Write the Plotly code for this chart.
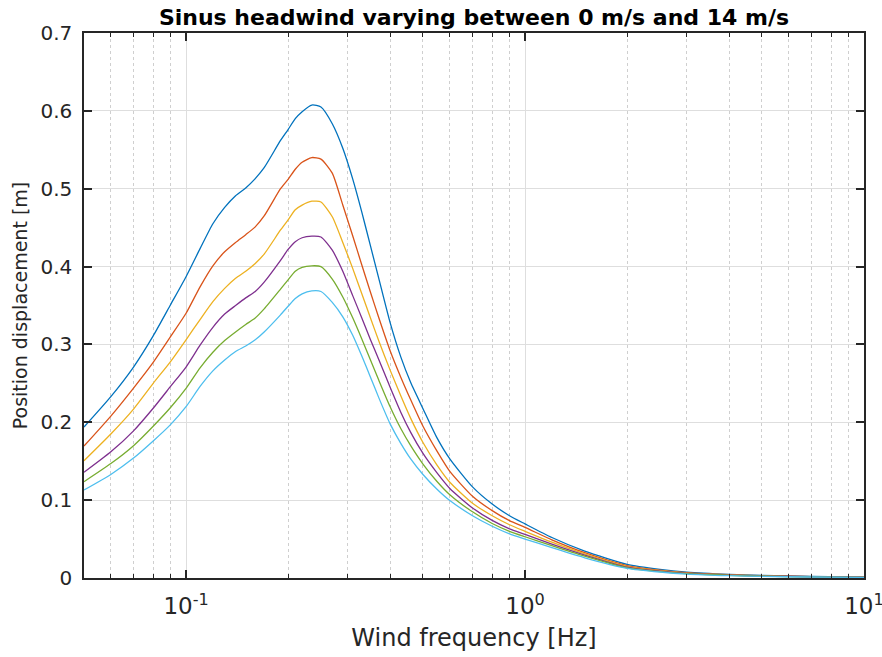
import plotly.graph_objects as go

# Wind frequency [Hz]
freq = [0.05, 0.06, 0.07, 0.08, 0.09, 0.1, 0.11, 0.12, 0.13, 0.14, 0.15, 0.16, 0.17,
        0.19, 0.2, 0.21, 0.22, 0.235, 0.25, 0.27, 0.29, 0.31, 0.33, 0.35, 0.37, 0.4,
        0.43, 0.46, 0.5, 0.55, 0.6, 0.7, 0.8, 0.9, 1.0, 1.2, 1.5, 2, 2.5, 3, 4, 5, 7, 10]

# Position displacement [m], one series per curve (top to bottom)
s1 = [0.194, 0.233, 0.271, 0.311, 0.351, 0.387, 0.423, 0.455, 0.476, 0.491, 0.501, 0.513, 0.527,
      0.562, 0.576, 0.590, 0.599, 0.6075, 0.605, 0.5835, 0.552, 0.513, 0.470, 0.4265, 0.3855, 0.328,
      0.284, 0.251, 0.2175, 0.180, 0.153, 0.117, 0.095, 0.080, 0.0695, 0.052, 0.0345, 0.0175, 0.011,
      0.0075, 0.0046, 0.0032, 0.002, 0.0012]
s2 = [0.1695, 0.208, 0.244, 0.277, 0.310, 0.340, 0.374, 0.401, 0.419, 0.431, 0.441, 0.451, 0.465,
      0.500, 0.512, 0.525, 0.534, 0.540, 0.538, 0.520, 0.479, 0.440, 0.402, 0.367, 0.335, 0.292,
      0.258, 0.229, 0.195, 0.163, 0.137, 0.105, 0.0865, 0.0736, 0.065, 0.049, 0.0325, 0.016, 0.010,
      0.0068, 0.0042, 0.0029, 0.0018, 0.0011]
s3 = [0.1507, 0.185, 0.217, 0.250, 0.278, 0.306, 0.332, 0.355, 0.372, 0.385, 0.394, 0.404, 0.416,
      0.447, 0.460, 0.473, 0.479, 0.484, 0.483, 0.464, 0.431, 0.398, 0.365, 0.334, 0.305, 0.267,
      0.234, 0.205, 0.174, 0.145, 0.123, 0.096, 0.080, 0.0684, 0.060, 0.046, 0.031, 0.015, 0.0093,
      0.0063, 0.0039, 0.0027, 0.0017, 0.0010]
s4 = [0.1357, 0.162, 0.189, 0.218, 0.246, 0.271, 0.299, 0.322, 0.339, 0.350, 0.3598, 0.368, 0.380,
      0.408, 0.422, 0.432, 0.437, 0.439, 0.438, 0.421, 0.394, 0.363, 0.334, 0.306, 0.281, 0.245,
      0.213, 0.187, 0.160, 0.135, 0.115, 0.090, 0.074, 0.0632, 0.056, 0.0435, 0.0295, 0.014, 0.0088,
      0.0059, 0.0036, 0.0025, 0.0016, 0.0010]
s5 = [0.1237, 0.147, 0.170, 0.195, 0.219, 0.2436, 0.270, 0.290, 0.305, 0.316, 0.3256, 0.334, 0.3456,
      0.371, 0.383, 0.394, 0.399, 0.401, 0.400, 0.384, 0.361, 0.3345, 0.307, 0.280, 0.2545, 0.220,
      0.192, 0.170, 0.1464, 0.124, 0.107, 0.085, 0.070, 0.060, 0.053, 0.0415, 0.028, 0.013, 0.0082,
      0.0055, 0.0034, 0.0023, 0.0015, 0.0009]
s6 = [0.113, 0.133, 0.154, 0.176, 0.197, 0.220, 0.246, 0.266, 0.280, 0.291, 0.298, 0.306, 0.316,
      0.338, 0.349, 0.359, 0.365, 0.3687, 0.368, 0.354, 0.3355, 0.312, 0.285, 0.258, 0.232, 0.198,
      0.173, 0.153, 0.133, 0.114, 0.0995, 0.080, 0.0665, 0.0568, 0.050, 0.039, 0.026, 0.0125, 0.0077,
      0.0051, 0.0030, 0.0020, 0.0013, 0.0008]

series = [s1, s2, s3, s4, s5, s6]
colors = ["#0072BD", "#D95319", "#EDB120", "#7E2F8E", "#77AC30", "#4DBEEE"]

x_tickvals = [0.1, 1, 10]
x_ticktext = ["10<sup>-1</sup>", "10<sup>0</sup>", "10<sup>1</sup>"]

title_text = "Sinus headwind varying between 0 m/s and 14 m/s"
x_title = "Wind frequency [Hz]"
y_title = "Position displacement [m]"

fig = go.Figure()
for vals, col in zip(series, colors):
    fig.add_trace(go.Scatter(x=freq, y=vals, mode="lines",
                             line=dict(color=col, width=1.3, shape="spline", smoothing=0.6),
                             showlegend=False, hoverinfo="skip"))

axis_col = "#262626"
fig.update_layout(
    width=882, height=657,
    margin=dict(l=84, r=18, t=33, b=79),
    paper_bgcolor="white", plot_bgcolor="white",
    font=dict(family="DejaVu Sans", color=axis_col),
    title=dict(text="<b>" + title_text + "</b>", x=0.5, xanchor="center",
               xref="paper", y=0.974, yanchor="middle",
               font=dict(family="DejaVu Sans", size=22, color="black")),
)
fig.update_xaxes(
    type="log", range=[-1.30103, 1], tickvals=x_tickvals, ticktext=x_ticktext,
    automargin=False, ticklabeloverflow="allow",
    showline=True, linecolor=axis_col, linewidth=1.5, mirror="allticks",
    ticks="inside", ticklen=8, tickwidth=1.5, tickcolor=axis_col,
    tickfont=dict(size=23, color=axis_col), ticklabelstandoff=7,
    showgrid=True, gridcolor="#dedede", gridwidth=1,
    minor=dict(dtick="D1", ticks="inside", ticklen=4, tickwidth=1.3, tickcolor=axis_col,
               showgrid=True, gridcolor="#cfcfcf", griddash="dot", gridwidth=1),
    title=dict(text=x_title, font=dict(size=24, color=axis_col), standoff=11),
    zeroline=False,
)
fig.update_yaxes(
    range=[0, 0.7], dtick=0.1, tickformat="~g", automargin=False,
    showline=True, linecolor=axis_col, linewidth=1.5, mirror="allticks",
    ticks="inside", ticklen=8, tickwidth=1.5, tickcolor=axis_col,
    tickfont=dict(size=20, color=axis_col), ticklabelstandoff=6,
    showgrid=True, gridcolor="#dedede", gridwidth=1,
    title=dict(text=y_title, font=dict(size=19, color=axis_col), standoff=8),
    zeroline=False,
)

fig.write_html("out.html")
